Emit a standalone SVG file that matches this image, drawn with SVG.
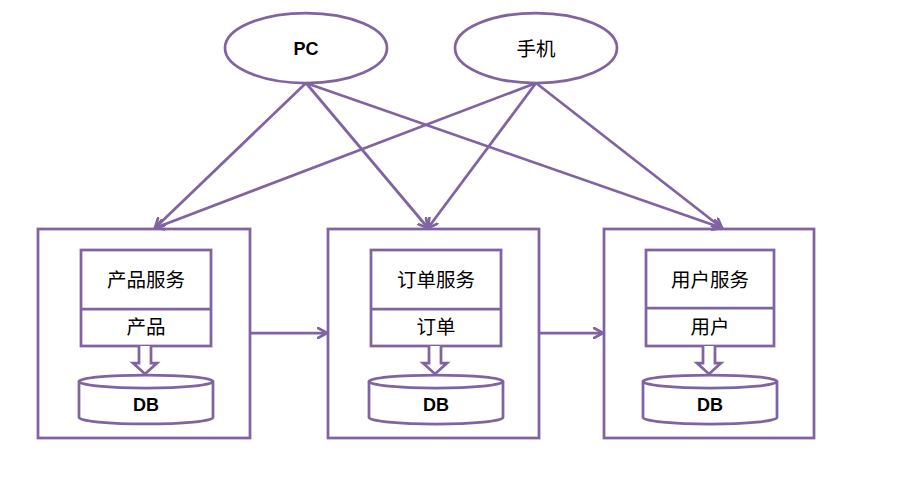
<svg xmlns="http://www.w3.org/2000/svg" width="920" height="478" viewBox="0 0 920 478">
<style>
.s{fill:#fff;stroke:#8064A2;stroke-width:2.75}
.c{fill:none;stroke:#8064A2;stroke-width:2.75}
.t{font-family:"Liberation Sans","Noto Sans CJK SC",sans-serif;font-size:19.5px;fill:#000;text-anchor:middle;dominant-baseline:central}
.b{font-weight:bold;font-size:18px}
</style>
<defs>
<marker id="ah" viewBox="0 0 12 12" refX="10" refY="6" markerWidth="12" markerHeight="12" markerUnits="userSpaceOnUse" orient="auto">
<path d="M1,1 L10,6 L1,11" fill="none" stroke="#8064A2" stroke-width="2.75" stroke-linecap="round" stroke-linejoin="round"/>
</marker>
</defs>
<rect width="920" height="478" fill="#fff"/>
<g id="pc">
<ellipse class="s" cx="306" cy="48" rx="81" ry="35"/>
<text class="t b" x="306" y="49">PC</text>
</g>
<g id="phone">
<ellipse class="s" cx="536" cy="48" rx="81" ry="35"/>
<text class="t" x="536" y="49">手机</text>
</g>
<g id="product">
<rect class="s" x="38" y="229" width="212" height="209"/>
<rect class="s" x="81" y="250" width="130" height="96"/>
<line class="c" x1="81" y1="309" x2="211" y2="309"/>
<text class="t" x="146" y="280">产品服务</text>
<text class="t" x="146" y="327">产品</text>
<path class="s" d="M139,346 V363 H133 L145,374 L157,363 H151 V346"/>
<path class="s" d="M79,381.5 V417.5 A67,6.5 0 0 0 213,417.5 V381.5"/>
<ellipse class="s" cx="146" cy="381.5" rx="67" ry="6.5"/>
<text class="t b" x="146" y="405">DB</text>
</g>
<g id="order">
<rect class="s" x="328" y="229" width="211" height="209"/>
<rect class="s" x="371" y="250" width="130" height="96"/>
<line class="c" x1="371" y1="309" x2="501" y2="309"/>
<text class="t" x="436" y="280">订单服务</text>
<text class="t" x="436" y="327">订单</text>
<path class="s" d="M429,346 V363 H423 L435,374 L447,363 H441 V346"/>
<path class="s" d="M369,381.5 V417.5 A67,6.5 0 0 0 503,417.5 V381.5"/>
<ellipse class="s" cx="436" cy="381.5" rx="67" ry="6.5"/>
<text class="t b" x="436" y="405">DB</text>
</g>
<g id="user">
<rect class="s" x="604" y="229" width="210" height="209"/>
<rect class="s" x="646" y="250" width="128" height="96"/>
<line class="c" x1="646" y1="308" x2="774" y2="308"/>
<text class="t" x="710" y="280">用户服务</text>
<text class="t" x="710" y="327">用户</text>
<path class="s" d="M703,346 V363 H697 L709,374 L721,363 H715 V346"/>
<path class="s" d="M643,381.5 V417.5 A67,6.5 0 0 0 777,417.5 V381.5"/>
<ellipse class="s" cx="710" cy="381.5" rx="67" ry="6.5"/>
<text class="t b" x="710" y="405">DB</text>
</g>
<g id="connectors">
<line class="c" x1="306" y1="83" x2="155" y2="228" marker-end="url(#ah)"/>
<line class="c" x1="306" y1="83" x2="428" y2="228" marker-end="url(#ah)"/>
<line class="c" x1="306" y1="83" x2="722" y2="228" marker-end="url(#ah)"/>
<line class="c" x1="536" y1="83" x2="155" y2="228" marker-end="url(#ah)"/>
<line class="c" x1="536" y1="83" x2="428" y2="228" marker-end="url(#ah)"/>
<line class="c" x1="536" y1="83" x2="722" y2="228" marker-end="url(#ah)"/>
<line class="c" x1="250" y1="333" x2="327" y2="333" marker-end="url(#ah)"/>
<line class="c" x1="539" y1="333" x2="603" y2="333" marker-end="url(#ah)"/>
</g>
</svg>
